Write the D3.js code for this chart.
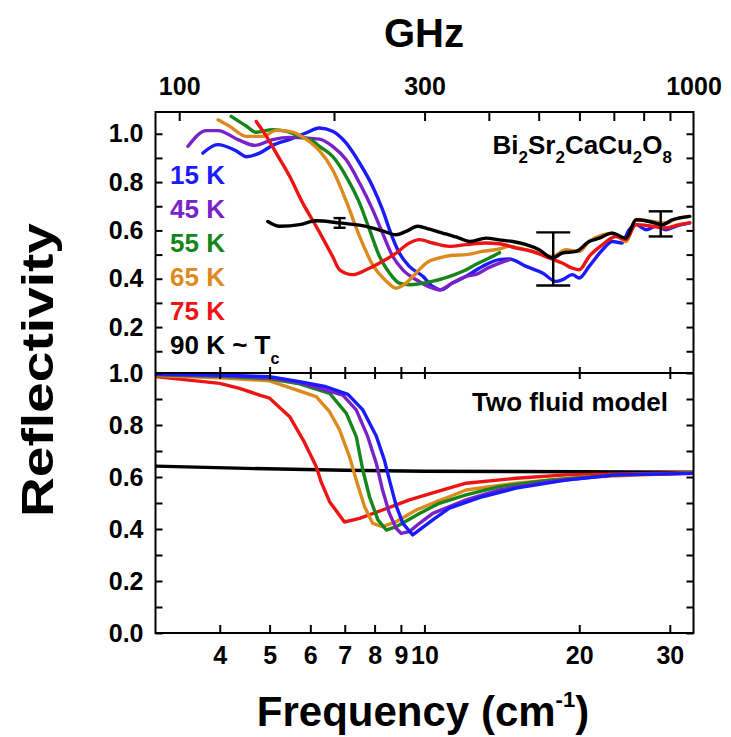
<!DOCTYPE html>
<html>
<head>
<meta charset="utf-8">
<script src="https://cdn.jsdelivr.net/npm/d3@7"></script>
<style>
  html, body { margin: 0; padding: 0; background: #fff; }
  svg text { font-family: "Liberation Sans", Arial, Helvetica, sans-serif; font-weight: bold; fill: #000; }
</style>
</head>
<body>
<svg id="chart" width="731" height="737"></svg>
<script>
// ---------------- DATA ----------------
const seriesNames = ["15 K", "45 K", "55 K", "65 K", "75 K", "90 K"];
const seriesColors = ["#1a1aff", "#7a22c8", "#16861a", "#dc8a1e", "#ee1414", "#000000"];

// Measured reflectivity (upper panel): [frequency cm^-1, R]
const meas15K = [[3.71,0.92],[3.96,0.955],[4.3,0.93],[4.51,0.905],[4.78,0.92],[5.07,0.952],[5.47,0.977],[5.88,1.003],[6.25,1.024],[6.63,1.01],[7.04,0.962],[7.48,0.879],[7.93,0.782],[8.29,0.686],[8.6,0.589],[8.94,0.506],[9.35,0.451],[9.93,0.41],[10.38,0.368],[10.78,0.354],[11.33,0.382],[12.05,0.41],[12.96,0.451],[13.98,0.479],[14.62,0.482],[15.77,0.451],[16.97,0.424],[18.03,0.389],[18.55,0.396],[19.4,0.417],[20.0,0.403],[20.9,0.451],[22.2,0.52],[23.2,0.554],[24.2,0.548],[25.0,0.603],[25.8,0.624],[27.0,0.603],[28.2,0.617],[29.5,0.603],[30.8,0.617],[32.8,0.631]];
const meas45K = [[3.47,0.948],[3.77,1.013],[3.97,1.013],[4.34,0.976],[4.68,0.952],[5.07,0.976],[5.47,0.985],[6.25,0.978],[6.63,0.948],[7.04,0.893],[7.48,0.796],[7.93,0.686],[8.29,0.589],[8.68,0.492],[9.08,0.437],[9.64,0.396],[10.38,0.361],[10.69,0.354],[11.33,0.382],[12.06,0.41],[12.6,0.418],[13.3,0.445],[14.0,0.465],[14.6,0.478]];
const meas55K = [[4.21,1.072],[4.51,1.031],[4.71,1.006],[5.07,1.017],[5.39,1.01],[5.72,0.989],[6.07,0.969],[6.25,0.948],[6.63,0.906],[7.04,0.824],[7.48,0.713],[7.82,0.603],[8.18,0.492],[8.55,0.424],[8.94,0.382],[9.35,0.375],[10.4,0.39],[11.2,0.41],[12.0,0.435],[12.6,0.46],[13.4,0.487],[14.0,0.508]];
const meas65K = [[3.97,1.058],[4.18,1.031],[4.51,0.989],[4.85,0.989],[5.15,1.014],[5.47,1.01],[5.9,0.976],[6.25,0.93],[6.63,0.851],[7.05,0.72],[7.48,0.575],[7.93,0.458],[8.43,0.39],[8.81,0.361],[9.21,0.382],[9.64,0.424],[10.08,0.465],[10.69,0.486],[11.34,0.497],[12.05,0.5],[12.96,0.513],[13.98,0.523],[14.62,0.534],[15.77,0.52],[16.97,0.499],[17.75,0.492],[18.84,0.52],[20.0,0.513],[20.9,0.554],[22.2,0.582],[23.2,0.589],[24.64,0.554],[25.8,0.644],[27.76,0.637],[29.5,0.631],[30.8,0.647],[32.8,0.658]];
const meas75K = [[4.71,1.051],[4.93,0.989],[5.15,0.92],[5.47,0.824],[5.8,0.713],[6.16,0.617],[6.63,0.492],[6.84,0.437],[7.26,0.417],[7.7,0.437],[8.18,0.465],[8.81,0.506],[9.35,0.548],[9.78,0.562],[10.38,0.548],[11.18,0.534],[12.05,0.541],[13.18,0.548],[13.98,0.545],[15.07,0.527],[16.23,0.513],[17.48,0.486],[18.53,0.465],[19.38,0.444],[20.0,0.437],[20.9,0.492],[22.2,0.541],[23.56,0.575],[24.64,0.562],[25.8,0.624],[27.76,0.617],[29.5,0.61],[31.27,0.624],[32.8,0.631]];
const meas90K = [[4.96,0.637],[5.23,0.617],[5.72,0.624],[6.16,0.64],[6.84,0.631],[7.7,0.617],[8.29,0.598],[8.81,0.582],[9.21,0.596],[9.7,0.617],[10.23,0.605],[10.85,0.589],[11.69,0.568],[12.23,0.554],[13.18,0.568],[13.98,0.561],[14.84,0.554],[15.77,0.541],[16.72,0.52],[17.75,0.486],[18.53,0.506],[19.71,0.513],[20.9,0.554],[21.87,0.568],[23.17,0.589],[24.64,0.568],[25.8,0.644],[27.35,0.637],[29.02,0.624],[30.35,0.644],[32.8,0.658]];

// Error bars on the 90 K curve: [frequency, centre, half-height]
const errFreq = [6.84, 17.8, 28.8];
const errCenter = [0.631, 0.482, 0.627];
const errHalf = [0.02, 0.11, 0.052];

// Two fluid model (lower panel)
const model15K = [[3.0,0.996],[4.0,0.992],[5.0,0.986],[5.72,0.967],[6.44,0.947],[7.1,0.918],[7.59,0.858],[8.06,0.758],[8.36,0.665],[8.55,0.588],[8.81,0.49],[9.08,0.422],[9.49,0.377],[10.38,0.435],[11.18,0.48],[12.96,0.524],[15.07,0.557],[18.84,0.588],[23.56,0.608],[33.36,0.614]];
const model45K = [[3.0,0.995],[4.0,0.99],[5.0,0.982],[5.72,0.963],[6.94,0.915],[7.37,0.858],[7.76,0.755],[8.06,0.653],[8.29,0.55],[8.55,0.46],[8.81,0.403],[9.01,0.383],[9.35,0.39],[9.78,0.422],[10.38,0.46],[12.05,0.512],[13.98,0.55],[17.48,0.582],[23.56,0.608],[33.36,0.614]];
const model55K = [[3.0,0.993],[4.0,0.987],[5.0,0.978],[5.72,0.958],[6.54,0.922],[7.05,0.845],[7.37,0.755],[7.59,0.627],[7.82,0.524],[8.12,0.435],[8.43,0.396],[8.81,0.409],[9.78,0.46],[10.69,0.499],[12.05,0.531],[13.98,0.563],[17.48,0.588],[23.56,0.608],[33.36,0.615]];
const model65K = [[3.0,0.99],[4.0,0.982],[5.0,0.97],[6.16,0.909],[6.54,0.851],[6.84,0.781],[7.15,0.678],[7.37,0.588],[7.65,0.486],[7.93,0.422],[8.29,0.409],[8.81,0.428],[9.64,0.473],[10.54,0.505],[11.18,0.524],[12.05,0.55],[15.07,0.576],[20.3,0.599],[33.36,0.616]];
const model75K = [[3.0,0.986],[4.0,0.96],[4.37,0.941],[4.78,0.915],[5.0,0.903],[5.47,0.832],[5.82,0.74],[6.16,0.64],[6.3,0.58],[6.54,0.505],[6.99,0.427],[7.48,0.441],[8.29,0.473],[9.35,0.512],[10.54,0.543],[12.05,0.576],[15.07,0.595],[18.84,0.608],[33.36,0.617]];
const model90K = [[3.0,0.642],[4.5,0.633],[7.0,0.626],[10.0,0.622],[20.0,0.62],[33.36,0.618]];

// Axis tick values / labels
const freqTicks = [4, 5, 6, 7, 8, 9, 10, 20, 30];
const ghzTicks = [100, 200, 300, 400, 500, 600, 700, 800, 900, 1000];
const ghzLabels = [100, 300, 1000];
const upperMajor = [0.2, 0.4, 0.6, 0.8, 1.0];
const upperMinor = [0.1, 0.3, 0.5, 0.7, 0.9];
const lowerMajor = [0.0, 0.2, 0.4, 0.6, 0.8, 1.0];
const lowerMinor = [0.1, 0.3, 0.5, 0.7, 0.9];
const GHZ_PER_CM = 29.9792458;

// ---------------- LAYOUT ----------------
const L = 155.5, R = 693.5, T = 112, MID = 373, B = 633;
const errCapPx = [6, 17, 12];
const TICK_FONT = 25;

const svg = d3.select("#chart");
const x = d3.scaleLog().domain([3.0, 1000 / GHZ_PER_CM]).range([L, R]);
const yU = d3.scaleLinear().domain([0.01, 1.09]).range([MID, T]);
const yL = d3.scaleLinear().domain([0, 1]).range([B, MID]);

const defs = svg.append("defs");
defs.append("clipPath").attr("id", "clipU").append("rect")
  .attr("x", L).attr("y", T).attr("width", R - L).attr("height", MID - T);
defs.append("clipPath").attr("id", "clipL").append("rect")
  .attr("x", L).attr("y", MID).attr("width", R - L).attr("height", B - MID);

const upperSeries = [meas15K, meas45K, meas55K, meas65K, meas75K, meas90K];
const lowerSeries = [model15K, model45K, model55K, model65K, model75K, model90K];

// lower panel: black below colours
const gLow = svg.append("g").attr("clip-path", "url(#clipL)");
const lineL = d3.line().x(d => x(d[0])).y(d => yL(d[1]));
[5, 4, 3, 2, 1, 0].forEach(i => {
  gLow.append("path").datum(lowerSeries[i])
    .attr("d", lineL).attr("fill", "none")
    .attr("stroke", seriesColors[i]).attr("stroke-width", 3.4)
    .attr("stroke-linejoin", "round");
});

// upper panel
const gUp = svg.append("g").attr("clip-path", "url(#clipU)");
const lineU = d3.line().x(d => x(d[0])).y(d => yU(d[1])).curve(d3.curveMonotoneX);
[0, 1, 2, 3, 4, 5].forEach(i => {
  gUp.append("path").datum(upperSeries[i])
    .attr("d", lineU).attr("fill", "none")
    .attr("stroke", seriesColors[i]).attr("stroke-width", 3.4)
    .attr("stroke-linejoin", "round").attr("stroke-linecap", "round");
});

// error bars
errFreq.forEach((f, i) => {
  const cx = x(f), y1 = yU(errCenter[i] + errHalf[i]), y2 = yU(errCenter[i] - errHalf[i]);
  const w = errCapPx[i];
  const g = svg.append("g").attr("stroke", "#000").attr("stroke-width", 2.4);
  g.append("line").attr("x1", cx).attr("x2", cx).attr("y1", y1).attr("y2", y2);
  g.append("line").attr("x1", cx - w).attr("x2", cx + w).attr("y1", y1).attr("y2", y1);
  g.append("line").attr("x1", cx - w).attr("x2", cx + w).attr("y1", y2).attr("y2", y2);
});

// ---------------- AXES ----------------
function styleAxis(g, fontSize) {
  g.selectAll(".domain").remove();
  g.selectAll(".tick line").attr("stroke", "#000").attr("stroke-width", 2);
  g.selectAll(".tick text").attr("font-size", fontSize).attr("fill", "#000")
    .style("font-family", '"Liberation Sans", Arial, sans-serif').style("font-weight", "bold");
}
const fmt1 = d3.format(".1f");

// Left axes
const gUL = svg.append("g").attr("transform", `translate(${L},0)`)
  .call(d3.axisLeft(yU).tickValues(upperMajor).tickFormat(fmt1).tickSize(-7).tickPadding(12));
styleAxis(gUL, TICK_FONT);
const gULm = svg.append("g").attr("transform", `translate(${L},0)`)
  .call(d3.axisLeft(yU).tickValues(upperMinor).tickFormat("").tickSize(-7));
styleAxis(gULm, TICK_FONT);
const gLL = svg.append("g").attr("transform", `translate(${L},0)`)
  .call(d3.axisLeft(yL).tickValues(lowerMajor).tickFormat(fmt1).tickSize(-7).tickPadding(12));
styleAxis(gLL, TICK_FONT);
const gLLm = svg.append("g").attr("transform", `translate(${L},0)`)
  .call(d3.axisLeft(yL).tickValues(lowerMinor).tickFormat("").tickSize(-7));
styleAxis(gLLm, TICK_FONT);

// Right axes (inward ticks, no labels)
[[yU, upperMajor.concat(upperMinor)], [yL, lowerMajor.concat(lowerMinor)]].forEach(([sc, tv]) => {
  const g = svg.append("g").attr("transform", `translate(${R},0)`)
    .call(d3.axisRight(sc).tickValues(tv).tickFormat("").tickSize(-7));
  styleAxis(g, TICK_FONT);
});

// Bottom axis
const gB = svg.append("g").attr("transform", `translate(0,${B})`)
  .call(d3.axisBottom(x).tickValues(freqTicks).tickFormat(d3.format("d")).tickSize(-8).tickPadding(13));
styleAxis(gB, TICK_FONT);

// Divider ticks (both sides)
const gDu = svg.append("g").attr("transform", `translate(0,${MID})`)
  .call(d3.axisBottom(x).tickValues(freqTicks).tickFormat("").tickSize(-6));
styleAxis(gDu, TICK_FONT);
const gDd = svg.append("g").attr("transform", `translate(0,${MID})`)
  .call(d3.axisTop(x).tickValues(freqTicks).tickFormat("").tickSize(-6));
styleAxis(gDd, TICK_FONT);

// Top GHz axis
const xG = d3.scaleLog().domain(x.domain().map(d => d * GHZ_PER_CM)).range([L, R]);
const gT = svg.append("g").attr("transform", `translate(0,${T})`)
  .call(d3.axisTop(xG).tickValues(ghzTicks).tickSize(-9).tickPadding(17)
    .tickFormat(d => ghzLabels.includes(d) ? d3.format("d")(d) : ""));
styleAxis(gT, TICK_FONT);
gT.selectAll(".tick line").filter(d => d === 1000).remove();

// Frames
svg.append("rect").attr("x", L).attr("y", T).attr("width", R - L).attr("height", B - T)
  .attr("fill", "none").attr("stroke", "#000").attr("stroke-width", 2);
svg.append("line").attr("x1", L).attr("x2", R).attr("y1", MID).attr("y2", MID)
  .attr("stroke", "#000").attr("stroke-width", 2);

// ---------------- TEXT ----------------
svg.append("text").attr("x", 424).attr("y", 47).attr("text-anchor", "middle")
  .attr("font-size", 40).text("GHz");

const xl = svg.append("text").attr("x", 423).attr("y", 726).attr("text-anchor", "middle")
  .attr("font-size", 42);
xl.append("tspan").text("Frequency (cm");
xl.append("tspan").attr("font-size", 22).attr("dy", -19).text("-1");
xl.append("tspan").attr("dy", 19).text(")");

svg.append("text").attr("transform", "translate(53,370) rotate(-90)")
  .attr("text-anchor", "middle").attr("font-size", 44)
  .attr("textLength", 294).attr("lengthAdjust", "spacingAndGlyphs")
  .text("Reflectivity");

// Legend
seriesNames.forEach((name, i) => {
  const t = svg.append("text").attr("x", 170).attr("y", 184 + i * 34)
    .attr("font-size", 26).attr("fill", seriesColors[i]).style("fill", seriesColors[i]);
  if (i < 5) {
    t.text(name);
  } else {
    t.append("tspan").text(name + " ~ T");
    t.append("tspan").attr("font-size", 16).attr("dy", 10).text("c");
  }
});

// Compound label
const comp = svg.append("text").attr("x", 672).attr("y", 154).attr("text-anchor", "end").attr("font-size", 26);
[["Bi", false], ["2", true], ["Sr", false], ["2", true], ["CaCu", false], ["2", true], ["O", false], ["8", true]]
  .forEach(([s, sub], i, arr) => {
    const prevSub = i > 0 && arr[i - 1][1];
    const dy = sub ? 9 : (prevSub ? -9 : 0);
    comp.append("tspan").attr("dy", dy).attr("font-size", sub ? 17 : 26).text(s);
  });

svg.append("text").attr("x", 668).attr("y", 411).attr("text-anchor", "end")
  .attr("font-size", 26).text("Two fluid model");
</script>
</body>
</html>
